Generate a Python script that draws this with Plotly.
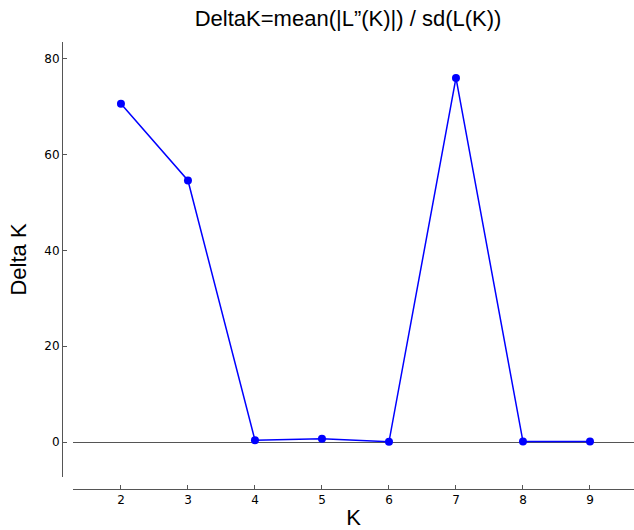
import plotly.graph_objects as go

K = [2, 3, 4, 5, 6, 7, 8, 9]
delta_k = [70.6, 54.6, 0.4, 0.7, 0.05, 76.0, 0.1, 0.1]
y_ticks = [0, 20, 40, 60, 80]

fig = go.Figure()
fig.add_trace(go.Scatter(
    x=K, y=delta_k, mode="lines+markers",
    line=dict(color="#0000FF", width=1.5),
    marker=dict(color="#0000FF", size=8),
    showlegend=False,
))

fig.update_layout(
    width=634, height=530,
    margin=dict(l=62, r=0, t=42, b=41),
    paper_bgcolor="white", plot_bgcolor="white",
    title=dict(text="DeltaK=mean(|L”(K)|) / sd(L(K))", x=0.549, xanchor="center",
               y=0.966, yanchor="middle",
               font=dict(family="Liberation Sans, Arial", size=22, color="black")),
    xaxis=dict(
        domain=[0.0192, 1], range=[1.284, 9.657], anchor="free", position=0,
        tickvals=K, ticks="inside", ticklen=4, tickcolor="#555",
        showline=True, linecolor="#555", linewidth=1, showgrid=False, zeroline=False,
        tickfont=dict(family="DejaVu Sans", size=12, color="black"),
        title=dict(text="K", font=dict(family="Liberation Sans, Arial", size=22, color="black"), standoff=4),
    ),
    yaxis=dict(
        domain=[0.0268, 1], range=[-7.3, 83.5], anchor="free", position=0,
        tickvals=y_ticks, ticks="inside", ticklen=4, tickcolor="#555",
        showline=True, linecolor="#555", linewidth=1, showgrid=False,
        zeroline=True, zerolinecolor="#555", zerolinewidth=1,
        tickfont=dict(family="DejaVu Sans", size=12, color="black"),
        title=dict(text="Delta K", font=dict(family="Liberation Sans, Arial", size=22, color="black"), standoff=10),
    ),
)

fig.write_html("out.html", config={"displayModeBar": False},
               post_script="document.body.style.margin='0px';")
